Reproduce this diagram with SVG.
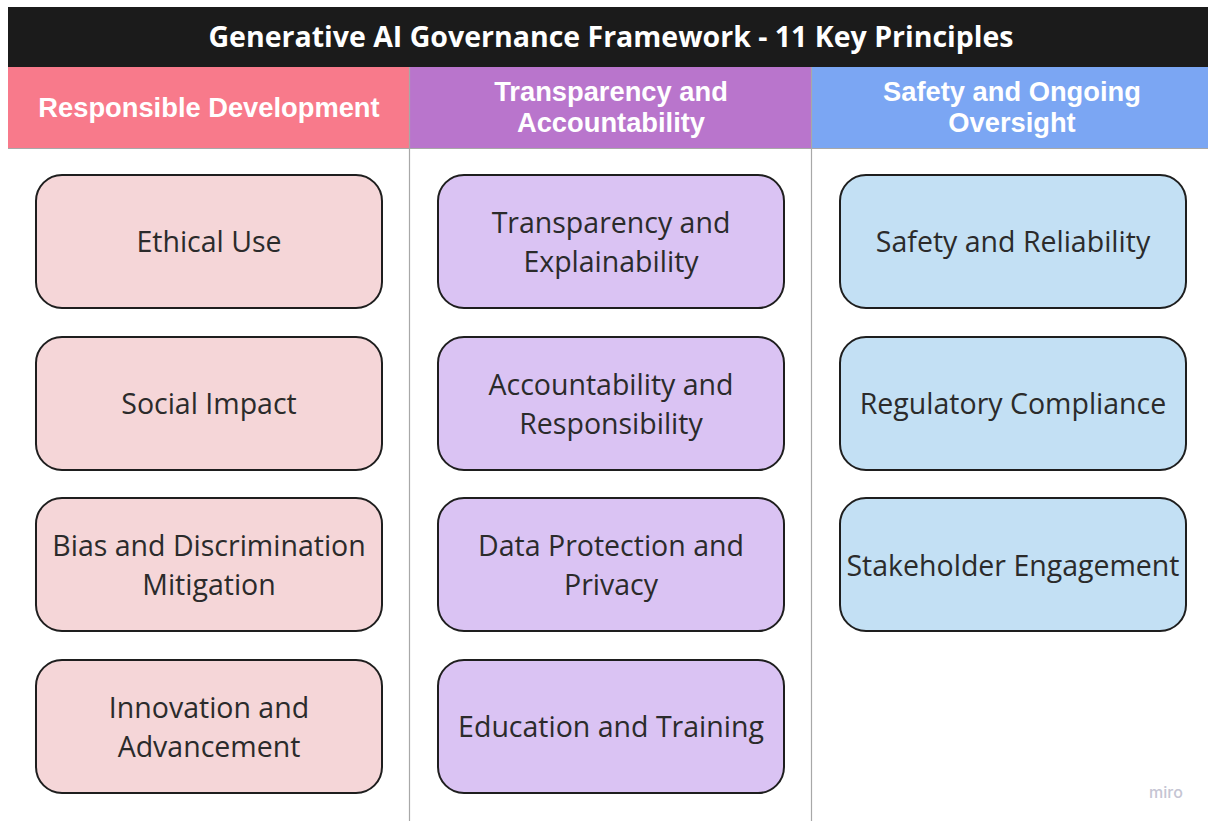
<svg xmlns="http://www.w3.org/2000/svg" width="1208" height="821" viewBox="0 0 1208 821">
  <style>
    .title { font-family: "Open Sans", "Liberation Sans", sans-serif; font-weight: 700; font-size: 28.5px; fill: #ffffff; text-anchor: middle; }
    .head { font-family: "Liberation Sans", Arial, sans-serif; font-weight: 700; font-size: 27.3px; fill: #ffffff; text-anchor: middle; }
    .box { stroke: #1e1e1e; stroke-width: 2; }
    .pink { fill: #f5d6d8; }
    .purple { fill: #dac3f3; }
    .blue { fill: #c3e0f4; }
    .lbl { font-family: "Open Sans", "Liberation Sans", sans-serif; font-size: 28.5px; fill: #2b2b2b; text-anchor: middle; }
    .rule { stroke: #a8a8a8; stroke-width: 1.2; fill: none; }
  </style>
  <rect x="0" y="0" width="1208" height="821" fill="#ffffff"/>

  <!-- title bar -->
  <g id="title">
    <rect x="8" y="7" width="1200" height="60" fill="#1b1b1b"/>
    <text class="title" x="611" y="47">Generative AI Governance Framework - 11 Key Principles</text>
  </g>

  <!-- column headers -->
  <g id="header-responsible">
    <rect x="8" y="67" width="402" height="81" fill="#f87a8b"/>
    <text class="head" x="209" y="117">Responsible Development</text>
  </g>
  <g id="header-transparency">
    <rect x="410" y="67" width="402" height="81" fill="#b975cc"/>
    <text class="head" x="611" y="101">Transparency and</text>
    <text class="head" x="611" y="132">Accountability</text>
  </g>
  <g id="header-safety">
    <rect x="812" y="67" width="396" height="81" fill="#7ba6f3"/>
    <text class="head" x="1012" y="101">Safety and Ongoing</text>
    <text class="head" x="1012" y="132">Oversight</text>
  </g>

  <!-- grid lines -->
  <g id="grid">
    <line class="rule" x1="8" y1="148.5" x2="1208" y2="148.5"/>
    <line class="rule" x1="409.5" y1="67" x2="409.5" y2="821"/>
    <line class="rule" x1="811.5" y1="67" x2="811.5" y2="821"/>
  </g>

  <!-- column 1 -->
  <g id="ethical-use">
    <rect class="box pink" x="36" y="175" width="346" height="133" rx="26"/>
    <text class="lbl" x="209" y="252">Ethical Use</text>
  </g>
  <g id="social-impact">
    <rect class="box pink" x="36" y="337" width="346" height="133" rx="26"/>
    <text class="lbl" x="209" y="414">Social Impact</text>
  </g>
  <g id="bias-mitigation">
    <rect class="box pink" x="36" y="498" width="346" height="133" rx="26"/>
    <text class="lbl" x="209" y="556">Bias and Discrimination</text>
    <text class="lbl" x="209" y="595">Mitigation</text>
  </g>
  <g id="innovation">
    <rect class="box pink" x="36" y="660" width="346" height="133" rx="26"/>
    <text class="lbl" x="209" y="718">Innovation and</text>
    <text class="lbl" x="209" y="757">Advancement</text>
  </g>

  <!-- column 2 -->
  <g id="transparency-explainability">
    <rect class="box purple" x="438" y="175" width="346" height="133" rx="26"/>
    <text class="lbl" x="611" y="233">Transparency and</text>
    <text class="lbl" x="611" y="272">Explainability</text>
  </g>
  <g id="accountability-responsibility">
    <rect class="box purple" x="438" y="337" width="346" height="133" rx="26"/>
    <text class="lbl" x="611" y="395">Accountability and</text>
    <text class="lbl" x="611" y="434">Responsibility</text>
  </g>
  <g id="data-protection">
    <rect class="box purple" x="438" y="498" width="346" height="133" rx="26"/>
    <text class="lbl" x="611" y="556">Data Protection and</text>
    <text class="lbl" x="611" y="595">Privacy</text>
  </g>
  <g id="education-training">
    <rect class="box purple" x="438" y="660" width="346" height="133" rx="26"/>
    <text class="lbl" x="611" y="737">Education and Training</text>
  </g>

  <!-- column 3 -->
  <g id="safety-reliability">
    <rect class="box blue" x="840" y="175" width="346" height="133" rx="26"/>
    <text class="lbl" x="1013" y="252">Safety and Reliability</text>
  </g>
  <g id="regulatory-compliance">
    <rect class="box blue" x="840" y="337" width="346" height="133" rx="26"/>
    <text class="lbl" x="1013" y="414">Regulatory Compliance</text>
  </g>
  <g id="stakeholder-engagement">
    <rect class="box blue" x="840" y="498" width="346" height="133" rx="26"/>
    <text class="lbl" x="1013" y="576">Stakeholder Engagement</text>
  </g>

  <g id="connectors"/>

  <text x="1166" y="798" font-family="Inter, 'Liberation Sans', sans-serif" font-size="16" font-weight="500" fill="#c5c5d3" text-anchor="middle">miro</text>
</svg>
